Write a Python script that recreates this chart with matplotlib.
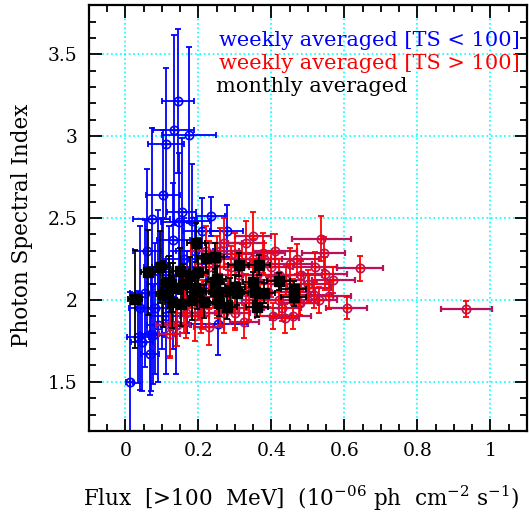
import matplotlib
matplotlib.use("Agg")
import matplotlib.pyplot as plt
from matplotlib.ticker import MultipleLocator
import numpy as np

# ---- data: weekly averaged, TS < 100 (blue) ----
blue_x = [0.144, 0.133, 0.174, 0.111, 0.103, 0.154, 0.072, 0.147, 0.131, 0.183,
          0.234, 0.278, 0.209, 0.039, 0.035, 0.046, 0.069, 0.067, 0.012, 0.255,
          0.053, 0.075, 0.090, 0.100, 0.120, 0.160, 0.080, 0.110, 0.170, 0.190,
          0.140, 0.060, 0.200, 0.220, 0.130, 0.090]
blue_y = [3.216, 3.040, 3.007, 2.954, 2.640, 2.537, 2.497, 2.476, 2.365, 2.480,
          2.510, 2.420, 2.420, 1.953, 1.774, 1.743, 1.795, 1.672, 1.500, 1.856,
          2.040, 1.785, 2.200, 2.100, 2.150, 2.250, 1.950, 1.900, 2.050, 2.300,
          1.850, 2.300, 2.200, 2.100, 2.000, 1.850]
blue_xerr = [0.043, 0.056, 0.074, 0.050, 0.047, 0.040, 0.050, 0.050, 0.045, 0.050,
             0.040, 0.045, 0.050, 0.030, 0.030, 0.030, 0.030, 0.025, 0.010, 0.080,
             0.040, 0.030, 0.040, 0.040, 0.050, 0.050, 0.030, 0.040, 0.050, 0.050,
             0.040, 0.040, 0.050, 0.060, 0.040, 0.030]
blue_yerr = [0.44, 0.58, 0.54, 0.46, 0.40, 0.45, 0.55, 0.42, 0.35, 0.35,
             0.12, 0.16, 0.20, 0.50, 0.28, 0.30, 0.35, 0.25, 0.55, 0.19,
             0.45, 0.30, 0.35, 0.40, 0.30, 0.25, 0.40, 0.35, 0.25, 0.20,
             0.30, 0.50, 0.18, 0.15, 0.30, 0.35]

# ---- data: weekly averaged, TS > 100 (red) ----
red_x = [0.537, 0.543, 0.642, 0.546, 0.606, 0.557, 0.518, 0.503, 0.477, 0.934,
         0.350, 0.376, 0.121, 0.121, 0.142, 0.165, 0.229, 0.326, 0.206, 0.301,
         0.404, 0.436, 0.459, 0.479,
         0.22, 0.25, 0.27, 0.30, 0.32, 0.33, 0.38, 0.40, 0.42, 0.45,
         0.44, 0.48, 0.50, 0.39, 0.35, 0.31, 0.28, 0.24, 0.20, 0.18,
         0.26, 0.34, 0.37, 0.42, 0.29, 0.23, 0.36, 0.41, 0.46, 0.53,
         0.57, 0.21, 0.19, 0.16, 0.30, 0.43, 0.40, 0.33, 0.26, 0.35,
         0.47, 0.52, 0.25, 0.27]
red_y = [2.375, 2.285, 2.193, 2.160, 1.951, 2.027, 2.030, 2.070, 1.980, 1.945,
         2.390, 2.287, 1.846, 1.795, 1.846, 1.918, 1.836, 1.867, 1.920, 1.918,
         1.900, 1.887, 1.900, 1.980,
         2.30, 2.25, 2.35, 2.28, 2.22, 2.35, 2.25, 2.20, 2.15, 2.22,
         2.12, 2.15, 2.10, 2.05, 2.10, 2.15, 2.05, 2.10, 2.05, 2.15,
         1.98, 1.98, 2.00, 2.00, 2.20, 2.20, 2.15, 2.30, 2.05, 2.00,
         2.12, 1.97, 1.90, 2.00, 1.95, 1.95, 2.12, 2.05, 2.30, 2.25,
         2.25, 2.20, 2.02, 1.92]
red_xerr = [0.080, 0.060, 0.063, 0.060, 0.057, 0.060, 0.050, 0.060, 0.050, 0.070,
            0.050, 0.060, 0.037, 0.030, 0.035, 0.040, 0.040, 0.040, 0.040, 0.040,
            0.050, 0.040, 0.050, 0.050,
            0.04, 0.05, 0.05, 0.05, 0.05, 0.05, 0.05, 0.05, 0.05, 0.06,
            0.05, 0.06, 0.06, 0.05, 0.05, 0.05, 0.04, 0.04, 0.04, 0.04,
            0.04, 0.05, 0.05, 0.05, 0.05, 0.04, 0.05, 0.06, 0.06, 0.05,
            0.06, 0.04, 0.04, 0.04, 0.04, 0.05, 0.05, 0.05, 0.05, 0.05,
            0.06, 0.06, 0.04, 0.04]
red_yerr = [0.14, 0.10, 0.076, 0.10, 0.065, 0.08, 0.08, 0.08, 0.07, 0.05,
            0.15, 0.12, 0.19, 0.15, 0.13, 0.15, 0.11, 0.10, 0.12, 0.10,
            0.08, 0.09, 0.08, 0.07,
            0.15, 0.14, 0.15, 0.13, 0.12, 0.13, 0.10, 0.10, 0.10, 0.10,
            0.09, 0.09, 0.08, 0.09, 0.10, 0.12, 0.13, 0.15, 0.17, 0.20,
            0.13, 0.10, 0.10, 0.09, 0.13, 0.16, 0.10, 0.10, 0.08, 0.08,
            0.08, 0.15, 0.15, 0.20, 0.12, 0.08, 0.10, 0.11, 0.14, 0.12,
            0.09, 0.09, 0.13, 0.12]

# ---- data: monthly averaged (black) ----
mon_x = [0.026, 0.062, 0.094, 0.104, 0.119, 0.121, 0.131, 0.128, 0.151, 0.153,
         0.159, 0.177, 0.182, 0.193, 0.200, 0.191, 0.195, 0.215, 0.220, 0.245,
         0.252, 0.245, 0.245, 0.257, 0.278, 0.287, 0.300, 0.307, 0.310, 0.351,
         0.356, 0.360, 0.367, 0.381, 0.420, 0.461, 0.461, 0.255]
mon_y = [2.004, 2.168, 2.199, 2.035, 2.109, 2.078, 2.076, 1.986, 2.178, 1.973,
         2.097, 2.144, 2.000, 2.349, 2.168, 2.076, 2.047, 1.990, 2.256, 2.260,
         2.129, 2.109, 2.057, 1.980, 1.955, 2.062, 2.082, 2.041, 2.215, 2.109,
         2.051, 1.955, 2.215, 2.041, 2.113, 2.068, 2.016, 2.050]
mon_xerr = [0.020, 0.020, 0.020, 0.020, 0.020, 0.020, 0.020, 0.020, 0.022, 0.022,
            0.022, 0.025, 0.025, 0.025, 0.025, 0.025, 0.025, 0.025, 0.025, 0.025,
            0.025, 0.025, 0.025, 0.025, 0.028, 0.028, 0.028, 0.028, 0.028, 0.030,
            0.030, 0.030, 0.030, 0.030, 0.032, 0.035, 0.035, 0.025]
mon_yerr = [0.30, 0.26, 0.22, 0.20, 0.16, 0.15, 0.15, 0.16, 0.14, 0.13,
            0.12, 0.12, 0.12, 0.12, 0.10, 0.10, 0.10, 0.10, 0.09, 0.09,
            0.08, 0.08, 0.08, 0.08, 0.07, 0.07, 0.07, 0.07, 0.07, 0.06,
            0.06, 0.06, 0.06, 0.06, 0.05, 0.05, 0.05, 0.08]

plt.rcParams['font.family'] = ['DejaVu Serif']
plt.rcParams['mathtext.fontset'] = 'dejavuserif'

fig = plt.figure(figsize=(5.29, 5.14), dpi=100)
ax = fig.add_axes([0.168, 0.1615, 0.828, 0.8285])

BLUE = '#0000FF'
RED = '#FF0000'
CRIM = '#B8125A'

# blue weekly
ax.errorbar(blue_x, blue_y, xerr=blue_xerr, yerr=blue_yerr, fmt='none',
            ecolor=BLUE, elinewidth=1.3, capsize=2.5, capthick=1.3, zorder=2)
ax.plot(blue_x, blue_y, 'o', ms=6, mfc='none', mec=BLUE, mew=1.2, zorder=3)
ax.plot(blue_x, blue_y, '+', ms=6, mec=BLUE, mew=1.0, zorder=3)

# red weekly
ax.errorbar(red_x, red_y, xerr=red_xerr, fmt='none',
            ecolor=CRIM, elinewidth=1.6, capsize=2.5, capthick=1.6, zorder=4)
ax.errorbar(red_x, red_y, yerr=red_yerr, fmt='none',
            ecolor=RED, elinewidth=1.3, capsize=2.5, capthick=1.3, zorder=4)
ax.plot(red_x, red_y, 'o', ms=6, mfc='none', mec=CRIM, mew=1.2, zorder=5)
ax.plot(red_x, red_y, '+', ms=6, mec=RED, mew=1.0, zorder=5)

# monthly
ax.errorbar(mon_x, mon_y, xerr=mon_xerr, yerr=mon_yerr, fmt='s', ms=6.5,
            color='black', ecolor='black', elinewidth=1.3, capsize=2.5,
            capthick=1.3, zorder=6)

ax.set_xlim(-0.1, 1.1)
ax.set_ylim(1.2, 3.8)
ax.xaxis.set_minor_locator(MultipleLocator(0.05))
ax.yaxis.set_minor_locator(MultipleLocator(0.1))
ax.set_xticks([0, 0.2, 0.4, 0.6, 0.8, 1.0])
ax.set_xticklabels(['0', '0.2', '0.4', '0.6', '0.8', '1'])
ax.set_yticks([1.5, 2, 2.5, 3, 3.5])
ax.set_yticklabels(['1.5', '2', '2.5', '3', '3.5'])
ax.tick_params(which='both', direction='in', top=True, right=True,
               labelsize=13.5, width=1.3, pad=8)
ax.tick_params(which='major', length=9)
ax.tick_params(which='minor', length=5)
for s in ax.spines.values():
    s.set_linewidth(1.6)
ax.grid(True, which='major', color='#00FFFF', linestyle=':', linewidth=1.2)
ax.set_axisbelow(True)

ax.set_xlabel(r'Flux  [>100  MeV]  (10$^{-06}$ ph  cm$^{-2}$ s$^{-1}$)',
              fontsize=15.5)
ax.xaxis.set_label_coords(0.484, -0.124)
ax.set_ylabel('Photon Spectral Index', fontsize=15.5)
ax.yaxis.set_label_coords(-0.128, 0.484)

ax.text(0.984, 0.918, 'weekly averaged [TS < 100]', color=BLUE,
        transform=ax.transAxes, ha='right', va='center', fontsize=15)
ax.text(0.984, 0.864, 'weekly averaged [TS > 100]', color=RED,
        transform=ax.transAxes, ha='right', va='center', fontsize=15)
ax.text(0.29, 0.810, 'monthly averaged', color='black',
        transform=ax.transAxes, ha='left', va='center', fontsize=15)

fig.savefig('out.png', dpi=100)
